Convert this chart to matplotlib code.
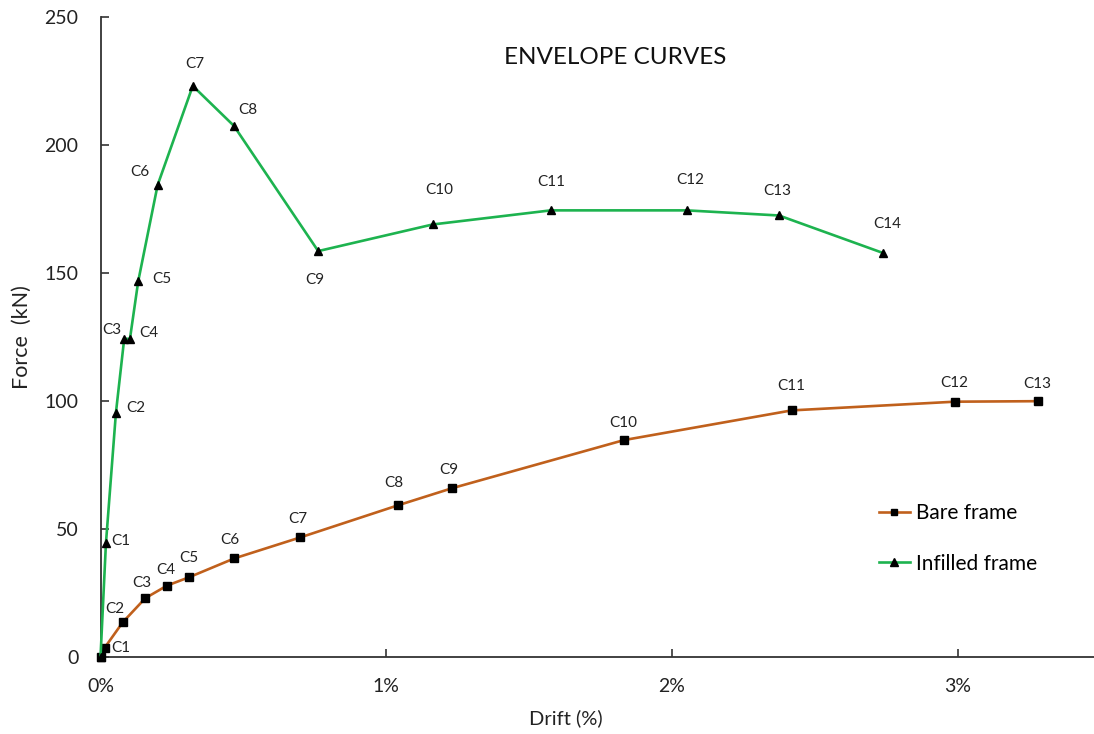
import matplotlib
matplotlib.use("Agg")
import matplotlib.pyplot as plt
from matplotlib.ticker import FuncFormatter

plt.rcParams['font.family'] = ['Lato', 'DejaVu Sans']

# Data (drift in %, force in kN)
bare_labels = ["", "C1", "C2", "C3", "C4", "C5", "C6", "C7", "C8", "C9", "C10", "C11", "C12", "C13"]
bare_drift = [0.0, 0.015, 0.078, 0.157, 0.233, 0.311, 0.468, 0.699, 1.040, 1.230, 1.832, 2.419, 2.990, 3.280]
bare_force = [0.0, 3.8, 13.7, 23.1, 28.0, 31.3, 38.6, 46.8, 59.3, 66.0, 84.8, 96.4, 99.8, 100.0]

inf_labels = ["", "C1", "C2", "C3", "C4", "C5", "C6", "C7", "C8", "C9", "C10", "C11", "C12", "C13", "C14"]
inf_drift = [0.0, 0.019, 0.054, 0.083, 0.103, 0.132, 0.200, 0.323, 0.467, 0.762, 1.163, 1.576, 2.052, 2.375, 2.738]
inf_force = [0.0, 44.5, 95.5, 124.4, 124.3, 146.8, 184.4, 223.1, 207.5, 158.6, 169.0, 174.5, 174.5, 172.5, 157.9]

x_ticks = [0, 1, 2, 3]
y_ticks = [0, 50, 100, 150, 200, 250]

# label offsets in pixels (layout only)
bare_off = [(0, 0), (16, 0), (-8, 13), (-4, 15), (-1, 16), (-1, 19), (-4, 18), (-2, 18),
            (-4, 22), (-3, 18), (-1, 17), (0, 24), (0, 19), (0, 17)]
inf_off = [(0, 0), (15, 2), (20, 5), (-12, 9), (19, 6), (24, 2), (-18, 13), (2, 22), (14, 16),
           (-3, -29), (6, 34), (0, 28), (3, 30), (-2, 24), (5, 29)]

BROWN = '#C0601C'
GREEN = '#1DB34F'

fig = plt.figure(figsize=(10.94, 7.34), dpi=100)
ax = fig.add_axes([100.5 / 1094, 76.7 / 734, (1094 - 100.5) / 1094, (657.3 - 17) / 734])

ax.plot(bare_drift, bare_force, color=BROWN, lw=1.9, marker='s', ms=5.5,
        mfc='black', mec='black', label='Bare frame', zorder=3, clip_on=False)
ax.plot(inf_drift, inf_force, color=GREEN, lw=1.9, marker='^', ms=6,
        mfc='black', mec='black', label='Infilled frame', zorder=3, clip_on=False)

for lab, x, y, (dx, dy) in zip(bare_labels, bare_drift, bare_force, bare_off):
    if lab:
        ax.annotate(lab, (x, y), xytext=(dx, dy), textcoords='offset pixels',
                    ha='center', va='center', fontsize=11, color='#222222')
for lab, x, y, (dx, dy) in zip(inf_labels, inf_drift, inf_force, inf_off):
    if lab:
        ax.annotate(lab, (x, y), xytext=(dx, dy), textcoords='offset pixels',
                    ha='center', va='center', fontsize=11, color='#222222')

ax.set_xlim(0, (1094 - 100.5) / 285.7)
ax.set_ylim(0, 250)
ax.set_xticks(x_ticks)
ax.set_yticks(y_ticks)
ax.xaxis.set_major_formatter(FuncFormatter(lambda v, p: f"{int(v)}%"))
ax.tick_params(axis='both', direction='in', length=6, width=1.2, color='#333333',
               labelsize=14, labelcolor='#222222')
ax.tick_params(axis='x', pad=15)
ax.tick_params(axis='y', pad=16)
for s in ['top', 'right']:
    ax.spines[s].set_visible(False)
for s in ['left', 'bottom']:
    ax.spines[s].set_color('#333333')
    ax.spines[s].set_linewidth(1.3)

ax.set_xlabel('Drift (%)', fontsize=14.5, color='#222222')
ax.set_ylabel('Force  (kN)', fontsize=15.5, color='#222222')
ax.xaxis.set_label_coords((566 - 100.5) / 993.5, -(718 - 657.3) / 640.3)
ax.yaxis.set_label_coords((22 - 100.5) / 993.5, 0.5)
ax.xaxis.label.set_va('center')
ax.yaxis.label.set_va('center')

fig.text(615 / 1094, 1 - 58 / 734, 'ENVELOPE CURVES', ha='center', va='center',
         fontsize=17.5, color='#111111')

leg = ax.legend(loc='upper left', bbox_to_anchor=(770 / 993.5, 1 - 478 / 640.3),
                frameon=False, fontsize=15, handlelength=1.5, labelspacing=1.45,
                handletextpad=0.3, markerscale=0.9, borderaxespad=0)

fig.savefig('out.png', dpi=100)
